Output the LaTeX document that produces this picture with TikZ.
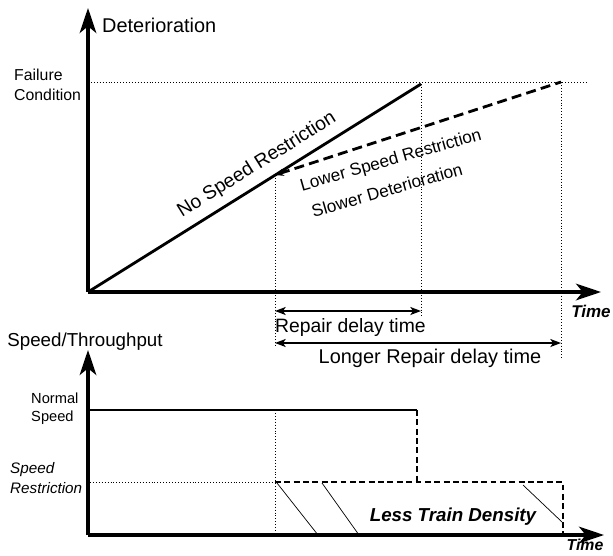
\documentclass[tikz,border=0pt]{standalone}
\usepackage{fontspec}
\setmainfont{Liberation Sans}
\usetikzlibrary{arrows.meta}

\begin{document}
\begin{tikzpicture}[x=0.03cm, y=-0.03cm,
    axis/.style={line width=2.6pt, -{Stealth[length=7.5mm, width=5mm, inset=2mm]}},
    curve/.style={line width=2.4pt},
    dashcurve/.style={line width=2.4pt, dash pattern=on 8.5pt off 4.5pt},
    level/.style={line width=1.8pt},
    dashlevel/.style={line width=1.8pt, dash pattern=on 5pt off 3pt},
    guide/.style={line width=0.6pt, dash pattern=on 0.8pt off 1.7pt},
    hatch/.style={line width=0.6pt},
    span/.style={line width=1.4pt, {Stealth[length=3.2mm, width=2.4mm, inset=0.8mm]}-{Stealth[length=3.2mm, width=2.4mm, inset=0.8mm]}},
    lbl/.style={inner sep=0pt, font=\fontsize{16.5}{18}\selectfont},
    slope/.style={inner sep=0pt, rotate=16, font=\fontsize{14.7}{16}\selectfont},
    timelbl/.style={inner sep=0pt, font=\fontsize{14.5}{16}\selectfont\bfseries\itshape}]

    \useasboundingbox (0,0) rectangle (613,555);

    % deterioration chart
    \coordinate (O) at (88,292);
    \coordinate (ytop) at (88,8);
    \coordinate (xend) at (601,292);
    \coordinate (kink) at (275,175);
    \coordinate (fast) at (421,84);
    \coordinate (slow) at (561,82);
    \coordinate (fail0) at (88,82);
    \coordinate (fail1) at (588,82);
    \coordinate (kinkdown) at (275,346);
    \coordinate (fastdown) at (421,318);
    \coordinate (slowdown) at (561,359);
    \coordinate (r1a) at (275,311);
    \coordinate (r1b) at (421,311);
    \coordinate (r2a) at (275,343);
    \coordinate (r2b) at (561,343);

    \draw[guide] (fail0) -- (fail1);
    \draw[guide] (kink) -- (kinkdown);
    \draw[guide] (fast) -- (fastdown);
    \draw[guide] (slow) -- (slowdown);
    \draw[curve] (O) -- (fast);
    \draw[dashcurve, {Stealth[length=2.6mm, width=2.2mm]}-] (kink) -- (slow);
    \draw[axis] (O) -- (ytop);
    \draw[axis] (O) -- (xend);
    \draw[span] (r1a) -- (r1b);
    \draw[span] (r2a) -- (r2b);

    \node[lbl, anchor=west, font=\fontsize{17}{18}\selectfont] (deter) at (102,25) {Deterioration};
    \node[inner sep=0pt, anchor=west, align=left, font=\fontsize{13.5}{17}\selectfont] (failure) at (14,85) {Failure\\Condition};
    \node[lbl, rotate=32] (nsr) at (257,165) {No Speed Restriction};
    \node[slope] (lsr) at (391,161) {Lower Speed Restriction};
    \node[slope] (sd) at (387,190) {Slower Deterioration};
    \node[timelbl] (time1) at (591,311) {Time};
    \node[lbl, anchor=west] (repair) at (275,327) {Repair delay time};
    \node[lbl, font=\fontsize{17}{18}\selectfont] (longer) at (430,358) {Longer Repair delay time};

    % speed chart
    \coordinate (O2) at (88,535);
    \coordinate (ytop2) at (88,350);
    \coordinate (xend2) at (604,535);
    \coordinate (ns0) at (88,410);
    \coordinate (ns1) at (417,410);
    \coordinate (sr0) at (275,482);
    \coordinate (sr1) at (417,482);
    \coordinate (sr2) at (563,482);
    \coordinate (sr3) at (563,535);
    \coordinate (srleft) at (90,482);
    \coordinate (cut) at (275,410);
    \coordinate (cutdown) at (275,535);

    \draw[guide] (srleft) -- (sr0);
    \draw[guide] (cut) -- (cutdown);
    \draw[level] (ns0) -- (ns1);
    \draw[dashlevel] (ns1) -- (sr1);
    \draw[dashlevel] (sr0) -- (sr2) -- (sr3);
    \draw[hatch] (277,483) -- (318,535);
    \draw[hatch] (322,483) -- (359,535);
    \draw[hatch] (523,485) -- (562,522);
    \draw[axis] (O2) -- (ytop2);
    \draw[axis] (O2) -- (xend2);

    \node[lbl, font=\fontsize{16}{18}\selectfont] (speed) at (85,342) {Speed/Throughput};
    \node[inner sep=0pt, anchor=west, align=left, font=\fontsize{12.5}{15.5}\selectfont] (normal) at (31,409) {Normal\\Speed};
    \node[inner sep=0pt, anchor=west, align=left, font=\fontsize{13}{17}\selectfont\itshape] (restr) at (10,478) {Speed\\Restriction};
    \node[inner sep=0pt, font=\fontsize{16}{18}\selectfont\bfseries\itshape] (density) at (453,517) {Less Train Density};
    \node[timelbl, font=\fontsize{13.5}{15}\selectfont\bfseries\itshape] (time2) at (585,545) {Time};
\end{tikzpicture}
\end{document}
